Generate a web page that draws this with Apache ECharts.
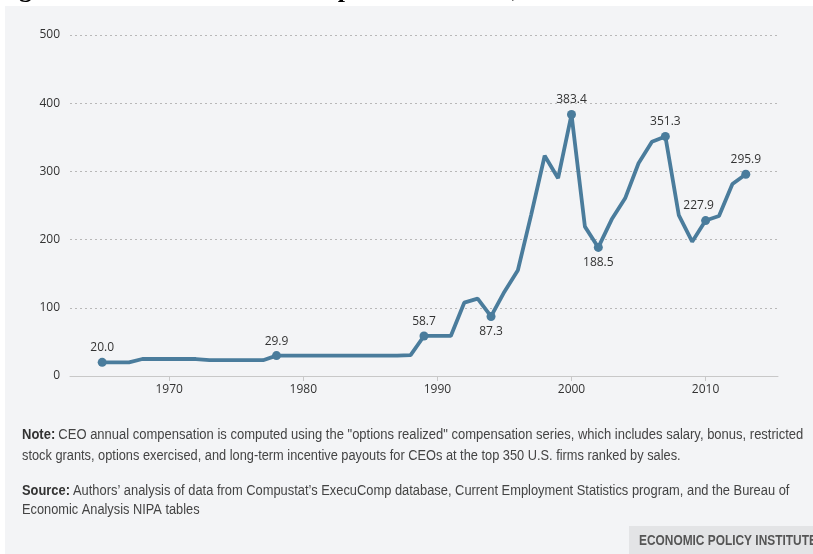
<!DOCTYPE html>
<html>
<head>
<meta charset="utf-8">
<script src="https://cdn.jsdelivr.net/npm/echarts@6/dist/echarts.min.js"></script>
<style>
html,body{margin:0;padding:0;background:#fff;}
#c{width:813px;height:554px;}
</style>
</head>
<body>
<div id="c"></div>
<script>
const years = [1965,1966,1967,1968,1969,1970,1971,1972,1973,1974,1975,1976,1977,1978,1979,1980,1981,1982,1983,1984,1985,1986,1987,1988,1989,1990,1991,1992,1993,1994,1995,1996,1997,1998,1999,2000,2001,2002,2003,2004,2005,2006,2007,2008,2009,2010,2011,2012,2013];
const ratio = [20.0,20.0,20.0,24.9,24.9,24.9,24.9,24.9,23.2,23.2,23.2,23.2,23.2,29.9,29.9,29.9,29.9,29.9,29.9,29.9,29.9,29.9,29.9,30.5,58.7,58.7,58.7,107.5,113.5,87.3,123.6,155.0,237.0,323.0,290.0,383.4,219.0,188.5,229.7,260.5,312.0,343.5,351.3,236.0,197.0,227.9,234.6,281.5,295.9];
const labeledYears = [1965,1978,1989,1994,2000,2002,2007,2010,2013];
const labelBelow = [1994,2002];
const xTickLabels = [1970,1980,1990,2000,2010];
const yTickLabels = [0,100,200,300,400,500];

const lineColor = '#4a7c9c';
const data = years.map((y,i)=>{
  const lab = labeledYears.includes(y);
  const below = labelBelow.includes(y);
  return {
    value:[y, ratio[i]],
    symbol: lab ? 'circle' : 'none',
    symbolSize: lab ? 9 : 0,
    label: lab ? {
      show:true,
      position: below ? 'bottom' : 'top',
      distance: below ? 5 : 4,
      offset: y===2010 ? [-7,0] : [0,0],
      formatter: ratio[i].toFixed(1)
    } : {show:false}
  };
});

const noteFont = '14px "Liberation Sans", sans-serif';
const noteBold = 'bold 14px "Liberation Sans", sans-serif';

const chart = echarts.init(document.getElementById('c'));
chart.setOption({
  backgroundColor:'#ffffff',
  animation:false,
  graphic:[
    {type:'rect', shape:{x:5,y:6,width:808,height:548}, style:{fill:'#f3f4f6'}, z:-10},
    {type:'text', x:-4, y:3, style:{text:'Figure 1. CEO-to-worker Compensation Ratio, 1965-2013', font:'bold 26px "Liberation Serif", serif', fill:'#000', verticalAlign:'bottom'}, z:-5},
    {type:'text', x:22, y:435, scaleX:0.929, style:{rich:{b:{font:noteBold, fill:'#333'}, n:{font:noteFont, fill:'#444'}}, text:'{b|Note:} {n|CEO annual compensation is computed using the "options realized" compensation series, which includes salary, bonus, restricted}', verticalAlign:'middle'}},
    {type:'text', x:22, y:456, scaleX:0.914, style:{text:'stock grants, options exercised, and long-term incentive payouts for CEOs at the top 350 U.S. firms ranked by sales.', font:noteFont, fill:'#444', verticalAlign:'middle'}},
    {type:'text', x:22, y:491, scaleX:0.92, style:{rich:{b:{font:noteBold, fill:'#333'}, n:{font:noteFont, fill:'#444'}}, text:'{b|Source:} {n|Authors\u2019 analysis of data from Compustat\u2019s ExecuComp database, Current Employment Statistics program, and the Bureau of}', verticalAlign:'middle'}},
    {type:'text', x:22, y:510, scaleX:0.914, style:{text:'Economic Analysis NIPA tables', font:noteFont, fill:'#444', verticalAlign:'middle'}},
    {type:'rect', shape:{x:629,y:526,width:184,height:28}, style:{fill:'#e3e4e6'}},
    {type:'text', x:639, y:541, scaleX:0.85, style:{text:'ECONOMIC POLICY INSTITUTE', font:'bold 14px "Liberation Sans", sans-serif', fill:'#555', verticalAlign:'middle'}}
  ],
  grid:{left:70, right:35, top:35, bottom:178},
  xAxis:{
    type:'value', min:1962.6, max:2015.4,
    splitLine:{show:false},
    axisLine:{show:true, lineStyle:{color:'#c8c8c8', width:1}},
    axisTick:{show:true, customValues:xTickLabels, length:5, lineStyle:{color:'#c8c8c8'}},
    axisLabel:{customValues:xTickLabels, formatter:v=>String(v), color:'#333', fontSize:12, fontFamily:'"Open Sans", sans-serif', margin:8}
  },
  yAxis:{
    type:'value', min:0, max:500, interval:100,
    axisLine:{show:false}, axisTick:{show:false},
    axisLabel:{color:'#333', fontSize:12, fontFamily:'"Open Sans", sans-serif', margin:10},
    splitLine:{lineStyle:{type:[2,3], color:'#b8b8b8', width:1}}
  },
  series:[{
    type:'line',
    data:data,
    lineStyle:{color:lineColor, width:3.8},
    itemStyle:{color:lineColor},
    label:{color:'#333', fontSize:12, fontFamily:'"Open Sans", sans-serif'},
    z:5
  }]
});
</script>
</body>
</html>
